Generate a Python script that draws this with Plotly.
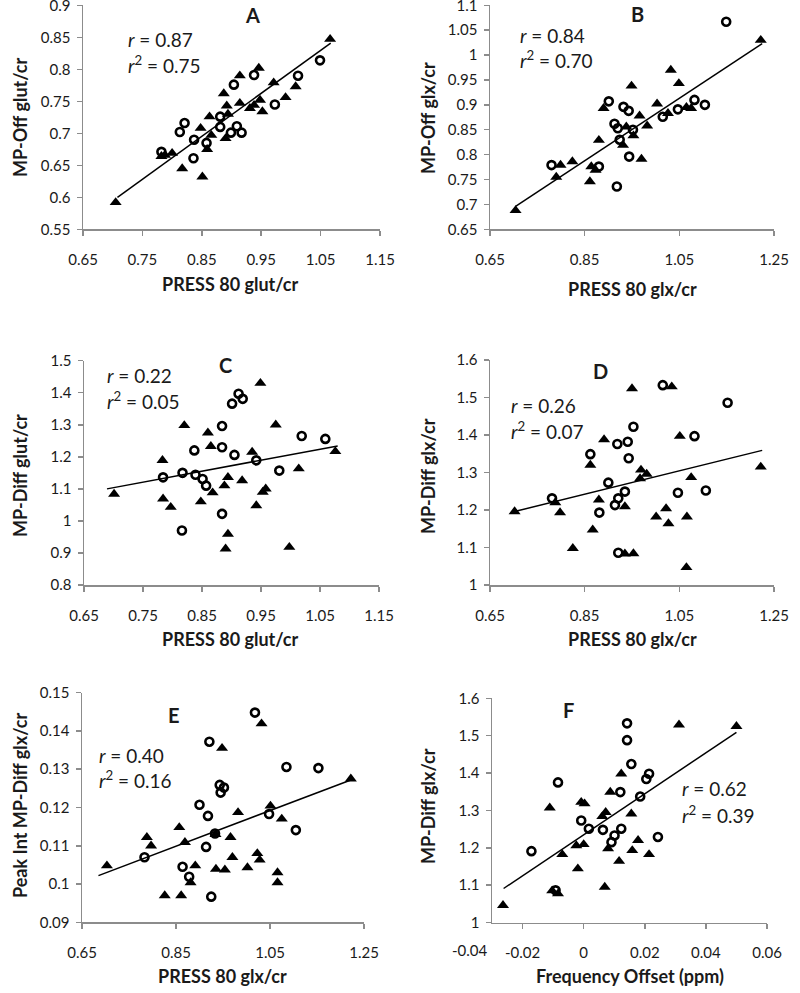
import plotly.graph_objects as go

W, H = 800, 993
FONT = "Lato"

# ---------------- data ----------------
# Panel A: PRESS 80 glut/cr vs MP-Off glut/cr
a_tri_x = [0.705, 1.066, 0.782, 0.788, 0.800, 0.817, 0.851, 0.848, 0.859, 0.863, 0.866, 0.887, 0.890,
           0.892, 0.894, 0.914, 0.914, 0.931, 0.938, 0.946, 0.948, 0.952, 0.971, 0.991, 1.008]
a_tri_y = [0.592, 0.847, 0.664, 0.666, 0.669, 0.645, 0.632, 0.708, 0.675, 0.726, 0.697, 0.762, 0.692,
           0.743, 0.730, 0.790, 0.747, 0.739, 0.744, 0.802, 0.752, 0.734, 0.779, 0.756, 0.773]
a_circ_x = [0.782, 0.821, 0.813, 0.837, 0.836, 0.858, 0.881, 0.881, 0.899, 0.909, 0.917, 0.904, 0.938,
            0.973, 1.012, 1.049]
a_circ_y = [0.671, 0.716, 0.702, 0.690, 0.661, 0.685, 0.726, 0.710, 0.701, 0.711, 0.701, 0.776, 0.791,
            0.745, 0.790, 0.814]
a_fit_x = [0.708, 1.067]
a_fit_y = [0.600, 0.841]

# Panel B: PRESS 80 glx/cr vs MP-Off glx/cr
b_tri_x = [0.704, 0.790, 0.799, 0.824, 0.861, 0.864, 0.873, 0.880, 0.890, 0.949, 0.931, 0.938, 0.953,
           0.966, 0.982, 0.970, 1.003, 1.026, 1.032, 1.049, 1.065, 1.075, 1.222]
b_tri_y = [0.688, 0.755, 0.779, 0.786, 0.746, 0.776, 0.769, 0.829, 0.893, 0.938, 0.819, 0.856, 0.838,
           0.878, 0.858, 0.791, 0.902, 0.883, 0.970, 0.943, 0.895, 0.893, 1.030]
b_circ_x = [0.780, 0.880, 0.901, 0.913, 0.920, 0.932, 0.943, 0.924, 0.952, 0.944, 0.918, 1.015, 1.047,
            1.082, 1.104, 1.149]
b_circ_y = [0.779, 0.776, 0.907, 0.862, 0.853, 0.896, 0.888, 0.830, 0.850, 0.796, 0.736, 0.876, 0.891,
            0.910, 0.900, 1.067]
b_fit_x = [0.704, 1.225]
b_fit_y = [0.696, 1.023]

# Panel C: PRESS 80 glut/cr vs MP-Diff glut/cr
c_tri_x = [0.701, 0.783, 0.784, 0.797, 0.820, 0.848, 0.860, 0.865, 0.868, 0.888, 0.894, 0.894, 0.890,
           0.918, 0.935, 0.942, 0.949, 0.953, 0.958, 0.975, 1.014, 0.998, 1.076]
c_tri_y = [1.084, 1.189, 1.069, 1.043, 1.298, 1.060, 1.275, 1.233, 1.088, 1.110, 1.136, 0.959, 0.913,
           1.126, 1.215, 1.048, 1.430, 1.090, 1.100, 1.300, 1.163, 0.918, 1.217]
c_circ_x = [0.784, 0.817, 0.816, 0.837, 0.839, 0.851, 0.857, 0.884, 0.884, 0.884, 0.905, 0.901, 0.912,
            0.919, 0.942, 0.981, 1.019, 1.059]
c_circ_y = [1.136, 1.150, 0.970, 1.220, 1.144, 1.131, 1.110, 1.296, 1.230, 1.022, 1.206, 1.366, 1.397,
            1.381, 1.189, 1.157, 1.265, 1.256]
c_fit_x = [0.689, 1.080]
c_fit_y = [1.100, 1.234]

# Panel D: PRESS 80 glx/cr vs MP-Diff glx/cr
d_tri_x = [0.702, 0.788, 0.798, 0.825, 0.862, 0.867, 0.880, 0.891, 0.935, 0.935, 0.950, 0.953, 0.967,
           0.969, 0.981, 1.001, 1.022, 1.027, 1.034, 1.051, 1.066, 1.075, 1.065, 1.222]
d_tri_y = [1.196, 1.220, 1.193, 1.098, 1.320, 1.147, 1.227, 1.388, 1.209, 1.083, 1.524, 1.084, 1.284,
           1.307, 1.296, 1.182, 1.204, 1.164, 1.529, 1.397, 1.182, 1.287, 1.047, 1.315]
d_circ_x = [0.781, 0.862, 0.881, 0.900, 0.914, 0.921, 0.935, 0.921, 0.919, 0.941, 0.943, 0.953, 1.015,
            1.047, 1.082, 1.106, 1.152]
d_circ_y = [1.231, 1.349, 1.193, 1.273, 1.213, 1.231, 1.249, 1.086, 1.376, 1.382, 1.338, 1.422, 1.533,
            1.246, 1.397, 1.252, 1.486]
d_fit_x = [0.702, 1.225]
d_fit_y = [1.196, 1.359]

# Panel E: PRESS 80 glx/cr vs Peak Int MP-Diff glx/cr
e_tri_x = [0.703, 0.788, 0.797, 0.826, 0.857, 0.869, 0.861, 0.881, 0.891, 0.934, 0.935, 0.948, 0.954,
           0.966, 0.970, 0.982, 1.002, 1.023, 1.028, 1.032, 1.051, 1.075, 1.066, 1.066, 1.222]
e_tri_y = [0.1048, 0.1122, 0.1100, 0.0970, 0.1148, 0.1109, 0.0970, 0.1004, 0.1048, 0.1130, 0.1039,
           0.1355, 0.1037, 0.1122, 0.1070, 0.1187, 0.1043, 0.1080, 0.1063, 0.1419, 0.1204, 0.1170,
           0.1030, 0.1004, 0.1275]
e_circ_x = [0.783, 0.864, 0.878, 0.900, 0.914, 0.918, 0.921, 0.925, 0.933, 0.943, 0.945, 0.952, 1.018,
            1.048, 1.085, 1.105, 1.153]
e_circ_y = [0.1070, 0.1045, 0.1019, 0.1207, 0.1097, 0.1178, 0.1372, 0.0967, 0.1132, 0.1259, 0.1239,
            0.1252, 0.1448, 0.1183, 0.1306, 0.1141, 0.1303]
e_fit_x = [0.685, 1.222]
e_fit_y = [0.1022, 0.1272]

# Panel F: Frequency Offset (ppm) vs MP-Diff glx/cr
f_tri_x = [-0.0264, -0.0111, -0.0103, -0.0084, -0.0070, -0.0024, -0.0019, -0.0008, 0.0003, 0.0000,
           0.0061, 0.0072, 0.0069, 0.0080, 0.0087, 0.0116, 0.0123, 0.0156, 0.0159, 0.0178, 0.0214,
           0.0312, 0.0500]
f_tri_y = [1.046, 1.307, 1.085, 1.077, 1.182, 1.206, 1.144, 1.322, 1.318, 1.209, 1.284, 1.295, 1.095,
           1.198, 1.349, 1.164, 1.398, 1.291, 1.193, 1.220, 1.182, 1.529, 1.525]
f_circ_x = [-0.0171, -0.0092, -0.0084, -0.0008, 0.0017, 0.0063, 0.0091, 0.0101, 0.0123, 0.0120,
            0.0142, 0.0142, 0.0156, 0.0185, 0.0205, 0.0214, 0.0243]
f_circ_y = [1.191, 1.086, 1.375, 1.273, 1.251, 1.248, 1.215, 1.233, 1.251, 1.349, 1.533, 1.488, 1.424,
            1.337, 1.384, 1.398, 1.229]
f_fit_x = [-0.0262, 0.0500]
f_fit_y = [1.091, 1.509]

# tick labels
a_xt = [0.65, 0.75, 0.85, 0.95, 1.05, 1.15]
a_xl = ["0.65", "0.75", "0.85", "0.95", "1.05", "1.15"]
a_yt = [0.55, 0.6, 0.65, 0.7, 0.75, 0.8, 0.85, 0.9]
a_yl = ["0.55", "0.6", "0.65", "0.7", "0.75", "0.8", "0.85", "0.9"]
b_xt = [0.65, 0.85, 1.05, 1.25]
b_xl = ["0.65", "0.85", "1.05", "1.25"]
b_yt = [0.65, 0.7, 0.75, 0.8, 0.85, 0.9, 0.95, 1.0, 1.05, 1.1]
b_yl = ["0.65", "0.7", "0.75", "0.8", "0.85", "0.9", "0.95", "1", "1.05", "1.1"]
c_yt = [0.8, 0.9, 1.0, 1.1, 1.2, 1.3, 1.4, 1.5]
c_yl = ["0.8", "0.9", "1", "1.1", "1.2", "1.3", "1.4", "1.5"]
d_yt = [1.0, 1.1, 1.2, 1.3, 1.4, 1.5, 1.6]
d_yl = ["1", "1.1", "1.2", "1.3", "1.4", "1.5", "1.6"]
e_yt = [0.09, 0.10, 0.11, 0.12, 0.13, 0.14, 0.15]
e_yl = ["0.09", "0.1", "0.11", "0.12", "0.13", "0.14", "0.15"]
f_xt = [-0.02, 0.0, 0.02, 0.04, 0.06]
f_xl = ["-0.02", "0", "0.02", "0.04", "0.06"]

panels = [
    dict(name="A", tx=a_tri_x, ty=a_tri_y, cx=a_circ_x, cy=a_circ_y, fx=a_fit_x, fy=a_fit_y,
         xr=[0.65, 1.15], yr=[0.55, 0.9], xt=a_xt, xl=a_xl, yt=a_yt, yl=a_yl,
         dom_x=(83, 380), dom_y=(5.3, 229.3),
         xtitle="PRESS 80 glut/cr", ytitle="MP-Off glut/cr",
         xtpos=(230, 284), ytpos=(20, 118), letter=(252, 15),
         rpos=(126, 39), r2pos=(126, 65), r="0.87", r2="0.75"),
    dict(name="B", tx=b_tri_x, ty=b_tri_y, cx=b_circ_x, cy=b_circ_y, fx=b_fit_x, fy=b_fit_y,
         xr=[0.65, 1.25], yr=[0.65, 1.1], xt=b_xt, xl=b_xl, yt=b_yt, yl=b_yl,
         dom_x=(490, 774), dom_y=(5.3, 229.3),
         xtitle="PRESS 80 glx/cr", ytitle="MP-Off glx/cr",
         xtpos=(632, 289), ytpos=(428, 118), letter=(637, 14),
         rpos=(518, 35), r2pos=(518, 59), r="0.84", r2="0.70"),
    dict(name="C", tx=c_tri_x, ty=c_tri_y, cx=c_circ_x, cy=c_circ_y, fx=c_fit_x, fy=c_fit_y,
         xr=[0.65, 1.15], yr=[0.8, 1.5], xt=a_xt, xl=a_xl, yt=c_yt, yl=c_yl,
         dom_x=(84, 379), dom_y=(360.7, 585),
         xtitle="PRESS 80 glut/cr", ytitle="MP-Diff glut/cr",
         xtpos=(230, 639), ytpos=(20, 476), letter=(225, 365),
         rpos=(105, 375), r2pos=(105, 401), r="0.22", r2="0.05"),
    dict(name="D", tx=d_tri_x, ty=d_tri_y, cx=d_circ_x, cy=d_circ_y, fx=d_fit_x, fy=d_fit_y,
         xr=[0.65, 1.25], yr=[1.0, 1.6], xt=b_xt, xl=b_xl, yt=d_yt, yl=d_yl,
         dom_x=(490, 774), dom_y=(360, 585),
         xtitle="PRESS 80 glx/cr", ytitle="MP-Diff glx/cr",
         xtpos=(632, 639), ytpos=(428, 476), letter=(600, 371),
         rpos=(509, 405), r2pos=(509, 430), r="0.26", r2="0.07"),
    dict(name="E", tx=e_tri_x, ty=e_tri_y, cx=e_circ_x, cy=e_circ_y, fx=e_fit_x, fy=e_fit_y,
         xr=[0.65, 1.25], yr=[0.09, 0.15], xt=b_xt, xl=b_xl, yt=e_yt, yl=e_yl,
         dom_x=(82, 364), dom_y=(692.7, 922.3),
         xtitle="PRESS 80 glx/cr", ytitle="Peak Int MP-Diff glx/cr",
         xtpos=(222, 976), ytpos=(20, 806), letter=(174, 715),
         rpos=(97, 755), r2pos=(97, 779), r="0.40", r2="0.16"),
    dict(name="F", tx=f_tri_x, ty=f_tri_y, cx=f_circ_x, cy=f_circ_y, fx=f_fit_x, fy=f_fit_y,
         xr=[-0.03, 0.06], yr=[1.0, 1.6], xt=f_xt, xl=f_xl, yt=d_yt, yl=d_yl,
         dom_x=(492, 767), dom_y=(698.3, 922.5),
         xtitle="Frequency Offset (ppm)", ytitle="MP-Diff glx/cr",
         xtpos=(630, 976), ytpos=(428, 806), letter=(568, 710),
         rpos=(680, 788), r2pos=(680, 814), r="0.62", r2="0.39"),
]

AXC = "#8c8c8c"
TXT = "#1a1a1a"

fig = go.Figure()
layout = dict(width=W, height=H, margin=dict(l=0, r=0, t=0, b=0, pad=0, autoexpand=False),
              paper_bgcolor="white", plot_bgcolor="white", showlegend=False,
              font=dict(family=FONT, color=TXT))
annotations = []


def px(x):
    return x / W


def py(y):
    return 1 - y / H


for i, p in enumerate(panels, start=1):
    xa = "x" if i == 1 else f"x{i}"
    ya = "y" if i == 1 else f"y{i}"
    fig.add_trace(go.Scatter(x=p["fx"], y=p["fy"], mode="lines", xaxis=xa, yaxis=ya,
                             line=dict(color="black", width=1.5), hoverinfo="skip"))
    fig.add_trace(go.Scatter(x=p["tx"], y=p["ty"], mode="markers", xaxis=xa, yaxis=ya,
                             marker=dict(symbol="triangle-up", size=10.5, color="black")))
    fig.add_trace(go.Scatter(x=p["cx"], y=p["cy"], mode="markers", xaxis=xa, yaxis=ya,
                             marker=dict(symbol="circle-open", size=8, color="black",
                                         line=dict(width=2.6, color="black"))))
    xkey = "xaxis" if i == 1 else f"xaxis{i}"
    ykey = "yaxis" if i == 1 else f"yaxis{i}"
    layout[xkey] = dict(domain=[px(p["dom_x"][0]), px(p["dom_x"][1])], range=p["xr"],
                        anchor=ya, tickvals=p["xt"], ticktext=p["xl"], automargin=False,
                        ticklabeloverflow="allow",
                        showgrid=False, zeroline=False, showline=True, linecolor=AXC, linewidth=1.5,
                        ticks="outside", ticklen=5, tickcolor=AXC, tickwidth=1.5,
                        tickfont=dict(family=FONT, size=15, color=TXT), ticklabelstandoff=11)
    layout[ykey] = dict(domain=[py(p["dom_y"][1]), py(p["dom_y"][0])], range=p["yr"],
                        anchor=xa, tickvals=p["yt"], ticktext=p["yl"], automargin=False,
                        ticklabeloverflow="allow",
                        showgrid=False, zeroline=False, showline=True, linecolor=AXC, linewidth=1.5,
                        ticks="outside", ticklen=5, tickcolor=AXC, tickwidth=1.5,
                        tickfont=dict(family=FONT, size=15, color=TXT), ticklabelstandoff=3)
    # panel letter
    annotations.append(dict(text=f"<b>{p['name']}</b>", x=px(p["letter"][0]), y=py(p["letter"][1]),
                            xref="paper", yref="paper", showarrow=False, xanchor="center",
                            yanchor="middle", font=dict(family=FONT, size=20, color=TXT)))
    # r, r^2
    annotations.append(dict(text=f"<i>r</i> = {p['r']}", x=px(p["rpos"][0]), y=py(p["rpos"][1]),
                            xref="paper", yref="paper", showarrow=False, xanchor="left",
                            yanchor="middle", font=dict(family=FONT, size=19, color=TXT)))
    annotations.append(dict(text=f"<i>r</i><sup>2</sup> = {p['r2']}", x=px(p["r2pos"][0]),
                            y=py(p["r2pos"][1]), xref="paper", yref="paper", showarrow=False,
                            xanchor="left", yanchor="middle", font=dict(family=FONT, size=19, color=TXT)))
    # axis titles
    annotations.append(dict(text=f"<b>{p['xtitle']}</b>", x=px(p["xtpos"][0]), y=py(p["xtpos"][1]),
                            xref="paper", yref="paper", showarrow=False, xanchor="center",
                            yanchor="middle", font=dict(family=FONT, size=18, color=TXT)))
    annotations.append(dict(text=f"<b>{p['ytitle']}</b>", x=px(p["ytpos"][0]), y=py(p["ytpos"][1]),
                            xref="paper", yref="paper", showarrow=False, xanchor="center",
                            yanchor="middle", textangle=-90, font=dict(family=FONT, size=18, color=TXT)))

# leftmost label of panel F sits left of the vertical axis
annotations.append(dict(text="-0.04", x=px(470), y=py(950), xref="paper", yref="paper",
                        showarrow=False, xanchor="center", yanchor="middle",
                        font=dict(family=FONT, size=15, color=TXT)))

layout["annotations"] = annotations
fig.update_layout(**layout)
fig.write_html("out.html", config={"displayModeBar": False, "staticPlot": True},
               post_script="document.body.style.margin='0';")
